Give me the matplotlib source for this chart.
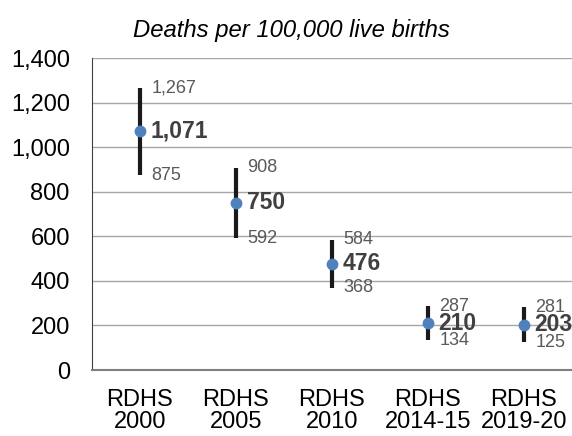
import matplotlib.pyplot as plt

plt.rcParams['font.family'] = ['Liberation Sans', 'DejaVu Sans']

# Survey rounds and maternal mortality ratio with confidence bounds
surveys = ['RDHS\n2000', 'RDHS\n2005', 'RDHS\n2010', 'RDHS\n2014-15', 'RDHS\n2019-20']
mmr = [1071, 750, 476, 210, 203]
upper = [1267, 908, 584, 287, 281]
lower = [875, 592, 368, 134, 125]

fig = plt.figure(figsize=(5.72, 4.36), dpi=100)
ax = fig.add_axes([92 / 572, 1 - 370 / 436, 480 / 572, 312 / 436])

x = list(range(len(surveys)))
ax.vlines(x, lower, upper, color='#1a1a1a', linewidth=3, zorder=3)
ax.plot(x, mmr, 'o', color='#4F81BD', markersize=7.5, zorder=4)

for i in x:
    ax.text(i + 0.12, upper[i], f'{upper[i]:,}', fontsize=13, color='#595959',
            va='center', ha='left')
    ax.text(i + 0.12, lower[i], f'{lower[i]:,}', fontsize=13, color='#595959',
            va='center', ha='left')
    ax.text(i + 0.11, mmr[i], f'{mmr[i]:,}', fontsize=16.5, color='#404040',
            fontweight='bold', va='center', ha='left')

ax.set_xlim(-0.5, 4.5)
ax.set_ylim(0, 1400)
ax.set_yticks(range(0, 1401, 200))
ax.set_yticklabels([f'{v:,}' for v in range(0, 1401, 200)])
ax.set_xticks(x)
ax.set_xticklabels(surveys, linespacing=0.98)
ax.tick_params(axis='both', length=0, labelsize=17, colors='black')
ax.tick_params(axis='x', pad=14)
ax.tick_params(axis='y', pad=16)
ax.yaxis.grid(True, color='#a6a6a6', linewidth=1)
ax.set_axisbelow(True)
for s in ['top', 'right']:
    ax.spines[s].set_visible(False)
ax.spines['left'].set_color('#404040')
ax.spines['bottom'].set_color('#808080')
ax.spines['bottom'].set_linewidth(1.5)

fig.text(291 / 572, 1 - 30 / 436, 'Deaths per 100,000 live births', fontsize=17.2,
         style='italic', ha='center', va='center')

fig.savefig('out.png', dpi=100)
